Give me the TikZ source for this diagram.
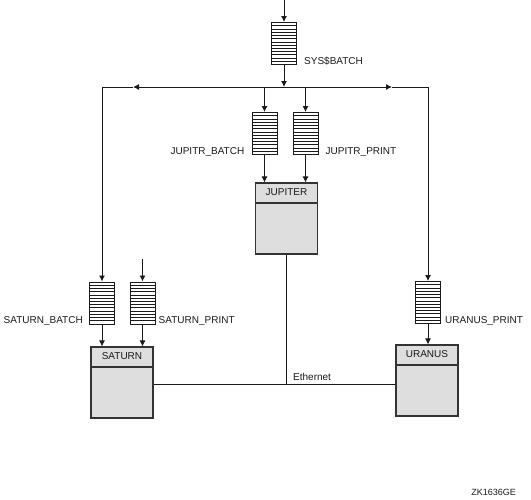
\documentclass[tikz,border=0pt]{standalone}
\usepackage{fontspec}
\setmainfont{Liberation Sans}
\usetikzlibrary{arrows.meta,calc}
\definecolor{ink}{HTML}{1A1A1A}
\definecolor{boxfill}{HTML}{DEDEDE}
\definecolor{boxborder}{HTML}{333333}
\tikzset{
  flow/.style={
    -{Latex[length=6pt,width=6pt]},
    draw=ink,
    line width=0.9pt
  },
  wire/.style={
    draw=ink,
    line width=0.9pt
  },
  queue/.style={
    draw=ink,
    fill=white,
    line width=1pt,
    minimum width=25pt,
    minimum height=42pt,
    inner sep=0pt,
    path picture={
      \foreach \k in {1,...,12}{
        \draw[ink,line width=0.75pt]
          ($(path picture bounding box.north west)!\k/13!(path picture bounding box.south west)$) --
          ($(path picture bounding box.north east)!\k/13!(path picture bounding box.south east)$);
      }
    }
  },
  system/.style={
    draw=boxborder,
    fill=boxfill,
    line width=1.1pt,
    minimum width=62pt,
    minimum height=71pt,
    inner sep=0pt,
    path picture={
      \draw[boxborder,line width=1.1pt]
        ([yshift=-20pt]path picture bounding box.north west) --
        ([yshift=-20pt]path picture bounding box.north east);
    }
  },
  system name/.style={
    inner sep=0pt,
    text=ink
  },
  queue label/.style={
    inner sep=0pt,
    text=ink
  },
  figure id/.style={
    inner sep=0pt,
    text=ink,
    font=\fontsize{9}{11}\selectfont
  }
}

\begin{document}
\begin{tikzpicture}[x=1pt,y=1pt]
  \useasboundingbox (0,0) rectangle (531,-499);

  \node[queue] (sys-queue) at (284,-43.5) {};
  \node[queue label,anchor=base west] (sys-label)
    at ([xshift=7pt,yshift=1pt]sys-queue.south east) {SYS\$BATCH};
  \coordinate (sys-in) at (284,0);

  \coordinate (bus) at (284,-87);
  \coordinate (bus-left) at (102,-87);
  \coordinate (bus-right) at (428,-87);
  \coordinate (bus-mark-left) at (133,-87);
  \coordinate (bus-mark-right) at (392,-87);

  \node[queue] (jupiter-batch) at (264.5,-133.5) {};
  \node[queue] (jupiter-print) at (305.5,-133.5) {};
  \node[queue label,anchor=base east] (jupiter-batch-label)
    at ([xshift=-7pt,yshift=1pt]jupiter-batch.south west) {JUPITR\_BATCH};
  \node[queue label,anchor=base west] (jupiter-print-label)
    at ([xshift=7pt,yshift=1pt]jupiter-print.south east) {JUPITR\_PRINT};
  \node[system] (jupiter) at (286.5,-218.5) {};
  \node[system name] (jupiter-name) at ([yshift=-10pt]jupiter.north) {JUPITER};

  \node[queue] (saturn-batch) at (102,-303) {};
  \node[queue] (saturn-print) at (142.5,-303) {};
  \coordinate (saturn-in) at (142.5,-259);
  \node[queue label,anchor=base east] (saturn-batch-label)
    at ([xshift=-6pt,yshift=1pt]saturn-batch.south west) {SATURN\_BATCH};
  \node[queue label,anchor=base west] (saturn-print-label)
    at ([xshift=3pt,yshift=1pt]saturn-print.south east) {SATURN\_PRINT};
  \node[system] (saturn) at (122,-382.5) {};
  \node[system name] (saturn-name) at ([yshift=-10pt]saturn.north) {SATURN};

  \node[queue] (uranus-print) at (428,-302.5) {};
  \node[queue label,anchor=base west] (uranus-print-label)
    at ([xshift=4pt,yshift=1pt]uranus-print.south east) {URANUS\_PRINT};
  \node[system] (uranus) at (427,-380.5) {};
  \node[system name] (uranus-name) at ([yshift=-10pt]uranus.north) {URANUS};

  \coordinate (ethernet) at (286,-384);
  \node[queue label,anchor=base west] (ethernet-label)
    at (293,-380) {Ethernet};

  \node[figure id,anchor=base east] (figure-id) at (516,-495) {ZK1636GE};

  \draw[flow] (sys-in) -- (sys-queue.north);
  \draw[flow] (sys-queue.south) -- (bus);
  \draw[flow] (bus) -- (bus-mark-left);
  \draw[flow] (bus-mark-left) -- (bus-left) -- (saturn-batch.north);
  \draw[flow] (bus) -- (bus-mark-right);
  \draw[flow] (bus-mark-right) -- (bus-right) -- (uranus-print.north);
  \draw[flow] (jupiter-batch.north |- bus) -- (jupiter-batch.north);
  \draw[flow] (jupiter-print.north |- bus) -- (jupiter-print.north);
  \draw[flow] (jupiter-batch.south) -- (jupiter-batch.south |- jupiter.north);
  \draw[flow] (jupiter-print.south) -- (jupiter-print.south |- jupiter.north);

  \draw[flow] (saturn-in) -- (saturn-print.north);
  \draw[flow] (saturn-batch.south) -- (saturn-batch.south |- saturn.north);
  \draw[flow] (saturn-print.south) -- (saturn-print.south |- saturn.north);
  \draw[flow] (uranus-print.south) -- (uranus-print.south |- uranus.north);

  \draw[wire] (jupiter.south -| ethernet) -- (ethernet);
  \draw[wire] (saturn.east |- ethernet) -- (uranus.west |- ethernet);
\end{tikzpicture}
\end{document}
